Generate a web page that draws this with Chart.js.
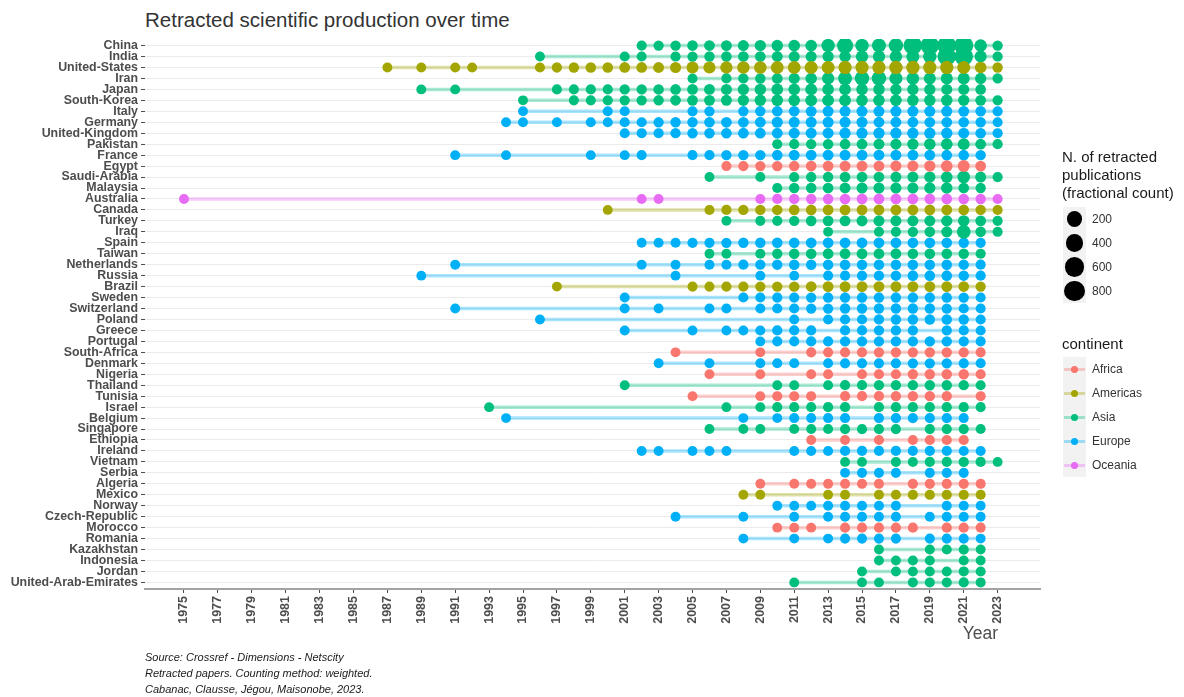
<!DOCTYPE html>
<html>
<head>
<meta charset="utf-8">
<script src="https://cdn.jsdelivr.net/npm/chart.js"></script>
<style>
  body { margin: 0; background: #fff; font-family: 'Liberation Sans', Arial, sans-serif; }
  #wrap { position: relative; width: 1184px; height: 697px; }
  #chart { position: absolute; left: 0; top: 0; }
  #title { position: absolute; left: 145px; top: 8px; font-size: 20.5px; color: #333; white-space: nowrap; }
  #year-label { position: absolute; right: 186px; top: 623px; font-size: 17.5px; color: #4d4d4d; }
  #caption { position: absolute; left: 145px; top: 649px; font-size: 11px; font-style: italic; line-height: 16px; color: #1a1a1a; }
  .leg-title { position: absolute; left: 1062px; font-size: 15px; line-height: 18px; color: #1a1a1a; white-space: nowrap; }
  .leg-box { position: absolute; left: 1063px; width: 23px; background: #f2f2f2; }
  .leg-label { position: absolute; left: 1092px; font-size: 12px; color: #333; line-height: 14px; }
  .leg-dot { position: absolute; border-radius: 50%; }
  .leg-line { position: absolute; height: 3px; }
</style>
</head>
<body>
<div id="wrap">
  <div id="title">Retracted scientific production over time</div>
  <canvas id="chart" width="1184" height="697"></canvas>
  <div id="year-label">Year</div>
  <div id="caption">Source: Crossref - Dimensions - Netscity<br>Retracted papers. Counting method: weighted.<br>Cabanac, Clausse, Jégou, Maisonobe, 2023.</div>
  <div id="legend"></div>
</div>
<script>
const countries = ['China', 'India', 'United-States', 'Iran', 'Japan', 'South-Korea', 'Italy', 'Germany',
  'United-Kingdom', 'Pakistan', 'France', 'Egypt', 'Saudi-Arabia', 'Malaysia', 'Australia', 'Canada',
  'Turkey', 'Iraq', 'Spain', 'Taiwan', 'Netherlands', 'Russia', 'Brazil', 'Sweden', 'Switzerland',
  'Poland', 'Greece', 'Portugal', 'South-Africa', 'Denmark', 'Nigeria', 'Thailand', 'Tunisia', 'Israel',
  'Belgium', 'Singapore', 'Ethiopia', 'Ireland', 'Vietnam', 'Serbia', 'Algeria', 'Mexico', 'Norway',
  'Czech-Republic', 'Morocco', 'Romania', 'Kazakhstan', 'Indonesia', 'Jordan', 'United-Arab-Emirates'];

const countryContinent = ['Asia', 'Asia', 'Americas', 'Asia', 'Asia', 'Asia', 'Europe', 'Europe',
  'Europe', 'Asia', 'Europe', 'Africa', 'Asia', 'Asia', 'Oceania', 'Americas',
  'Asia', 'Asia', 'Europe', 'Asia', 'Europe', 'Europe', 'Americas', 'Europe', 'Europe',
  'Europe', 'Europe', 'Europe', 'Africa', 'Europe', 'Africa', 'Asia', 'Africa', 'Asia',
  'Europe', 'Asia', 'Africa', 'Europe', 'Asia', 'Europe', 'Africa', 'Americas', 'Europe',
  'Europe', 'Africa', 'Europe', 'Asia', 'Asia', 'Asia', 'Asia'];

const continents = ['Africa', 'Americas', 'Asia', 'Europe', 'Oceania'];
const continentColors = ['#F8766D', '#A3A500', '#00BF7D', '#00B0F6', '#E76BF3'];

// years with at least one retracted publication, per country
const pubYears = [
  [2002, 2003, 2004, 2005, 2006, 2007, 2008, 2009, 2010, 2011, 2012, 2013, 2014, 2015, 2016, 2017, 2018, 2019, 2020, 2021, 2022, 2023],
  [1996, 2001, 2002, 2004, 2005, 2006, 2007, 2008, 2009, 2010, 2011, 2012, 2013, 2014, 2015, 2016, 2017, 2018, 2019, 2020, 2021, 2022, 2023],
  [1987, 1989, 1991, 1992, 1996, 1997, 1998, 1999, 2000, 2001, 2002, 2003, 2004, 2005, 2006, 2007, 2008, 2009, 2010, 2011, 2012, 2013, 2014, 2015, 2016, 2017, 2018, 2019, 2020, 2021, 2022, 2023],
  [2005, 2007, 2008, 2009, 2010, 2011, 2012, 2013, 2014, 2015, 2016, 2017, 2018, 2019, 2020, 2021, 2022, 2023],
  [1989, 1991, 1997, 1998, 1999, 2000, 2001, 2002, 2003, 2004, 2005, 2006, 2007, 2008, 2009, 2010, 2011, 2012, 2013, 2014, 2015, 2016, 2017, 2018, 2019, 2020, 2021, 2022],
  [1995, 1998, 1999, 2000, 2001, 2002, 2003, 2004, 2005, 2006, 2007, 2008, 2009, 2010, 2011, 2012, 2013, 2014, 2015, 2016, 2017, 2018, 2019, 2020, 2021, 2022, 2023],
  [1995, 2000, 2001, 2005, 2006, 2008, 2009, 2010, 2011, 2012, 2013, 2014, 2015, 2016, 2017, 2018, 2019, 2020, 2021, 2022, 2023],
  [1994, 1995, 1997, 1999, 2000, 2001, 2002, 2003, 2004, 2005, 2006, 2007, 2008, 2009, 2010, 2011, 2012, 2013, 2014, 2015, 2016, 2017, 2018, 2019, 2020, 2021, 2022, 2023],
  [2001, 2002, 2003, 2004, 2005, 2006, 2007, 2008, 2009, 2010, 2011, 2012, 2013, 2014, 2015, 2016, 2017, 2018, 2019, 2020, 2021, 2022, 2023],
  [2010, 2011, 2012, 2013, 2014, 2015, 2016, 2017, 2018, 2019, 2020, 2021, 2022, 2023],
  [1991, 1994, 1999, 2001, 2002, 2005, 2006, 2007, 2008, 2009, 2010, 2011, 2012, 2013, 2014, 2015, 2016, 2017, 2018, 2019, 2020, 2021, 2022],
  [2007, 2008, 2009, 2010, 2011, 2012, 2013, 2014, 2015, 2016, 2017, 2018, 2019, 2020, 2021, 2022],
  [2006, 2009, 2011, 2012, 2013, 2014, 2015, 2016, 2017, 2018, 2019, 2020, 2021, 2022, 2023],
  [2010, 2011, 2012, 2013, 2014, 2015, 2016, 2017, 2018, 2019, 2020, 2021, 2022],
  [1975, 2002, 2003, 2009, 2010, 2011, 2012, 2013, 2014, 2015, 2016, 2017, 2018, 2019, 2020, 2021, 2022, 2023],
  [2000, 2006, 2007, 2008, 2009, 2010, 2011, 2012, 2013, 2014, 2015, 2016, 2017, 2018, 2019, 2020, 2021, 2022, 2023],
  [2007, 2009, 2010, 2011, 2012, 2013, 2014, 2015, 2016, 2017, 2018, 2019, 2020, 2021, 2022, 2023],
  [2013, 2016, 2017, 2018, 2019, 2020, 2021, 2022, 2023],
  [2002, 2003, 2004, 2005, 2006, 2007, 2008, 2009, 2010, 2011, 2012, 2013, 2014, 2015, 2016, 2017, 2018, 2019, 2020, 2021, 2022],
  [2006, 2007, 2009, 2010, 2011, 2012, 2013, 2014, 2015, 2016, 2017, 2018, 2019, 2020, 2021, 2022],
  [1991, 2002, 2004, 2006, 2007, 2008, 2009, 2010, 2011, 2012, 2013, 2014, 2015, 2016, 2017, 2018, 2019, 2020, 2021, 2022],
  [1989, 2004, 2009, 2011, 2013, 2014, 2015, 2016, 2017, 2018, 2019, 2020, 2021, 2022],
  [1997, 2005, 2006, 2007, 2008, 2009, 2010, 2011, 2012, 2013, 2014, 2015, 2016, 2017, 2018, 2019, 2020, 2021, 2022],
  [2001, 2008, 2009, 2010, 2011, 2012, 2013, 2014, 2015, 2016, 2017, 2018, 2019, 2020, 2021, 2022],
  [1991, 2001, 2003, 2006, 2007, 2009, 2010, 2011, 2012, 2013, 2014, 2015, 2016, 2017, 2018, 2019, 2020, 2021, 2022],
  [1996, 2011, 2013, 2014, 2015, 2016, 2017, 2018, 2019, 2020, 2021, 2022],
  [2001, 2005, 2007, 2008, 2009, 2010, 2011, 2012, 2014, 2015, 2016, 2017, 2018, 2020, 2021, 2022],
  [2009, 2010, 2011, 2012, 2013, 2014, 2015, 2016, 2017, 2018, 2019, 2020, 2021, 2022],
  [2004, 2009, 2012, 2013, 2014, 2015, 2016, 2017, 2018, 2019, 2020, 2021, 2022],
  [2003, 2006, 2009, 2010, 2011, 2013, 2014, 2015, 2016, 2017, 2018, 2019, 2020, 2021, 2022],
  [2006, 2009, 2012, 2013, 2015, 2016, 2017, 2018, 2019, 2020, 2021, 2022],
  [2001, 2010, 2011, 2013, 2014, 2015, 2016, 2017, 2018, 2019, 2020, 2021, 2022],
  [2005, 2009, 2010, 2011, 2012, 2014, 2015, 2016, 2017, 2018, 2019, 2020, 2022],
  [1993, 2007, 2009, 2010, 2011, 2012, 2013, 2014, 2016, 2017, 2018, 2019, 2020, 2021, 2022],
  [1994, 2008, 2010, 2011, 2012, 2013, 2014, 2016, 2017, 2018, 2019, 2020, 2021],
  [2006, 2008, 2009, 2011, 2012, 2013, 2014, 2015, 2016, 2017, 2019, 2020, 2021, 2022],
  [2012, 2014, 2016, 2018, 2019, 2020, 2021],
  [2002, 2003, 2005, 2006, 2007, 2011, 2012, 2013, 2014, 2015, 2016, 2017, 2018, 2019, 2020, 2021, 2022],
  [2014, 2015, 2017, 2018, 2019, 2020, 2021, 2022, 2023],
  [2014, 2015, 2016, 2017, 2019, 2020, 2021],
  [2009, 2011, 2012, 2013, 2014, 2015, 2016, 2018, 2019, 2020, 2021, 2022],
  [2008, 2009, 2013, 2014, 2016, 2017, 2018, 2019, 2020, 2021, 2022],
  [2010, 2011, 2012, 2013, 2014, 2015, 2016, 2017, 2020, 2021, 2022],
  [2004, 2008, 2011, 2013, 2014, 2015, 2016, 2017, 2019, 2020, 2021, 2022],
  [2010, 2011, 2012, 2014, 2015, 2016, 2017, 2018, 2020, 2021, 2022],
  [2008, 2011, 2013, 2014, 2015, 2016, 2017, 2019, 2020, 2021, 2022],
  [2016, 2019, 2020, 2021, 2022],
  [2016, 2017, 2018, 2019, 2021, 2022],
  [2015, 2017, 2018, 2019, 2020, 2021, 2022],
  [2011, 2015, 2016, 2018, 2019, 2020, 2021, 2022]
];

// fractional counts, same order as pubYears
const pubCounts = [
  [3, 4, 5, 8, 10, 12, 15, 20, 25, 30, 30, 100, 280, 100, 130, 160, 520, 520, 580, 580, 60, 5],
  [1, 2, 2, 3, 4, 5, 6, 8, 10, 12, 14, 15, 20, 25, 50, 50, 55, 80, 100, 500, 520, 40, 3],
  [1, 1, 1, 1, 3, 4, 5, 8, 8, 10, 10, 12, 15, 40, 45, 50, 55, 60, 70, 70, 80, 80, 90, 90, 90, 100, 100, 90, 90, 80, 30, 5],
  [2, 3, 4, 6, 10, 15, 25, 50, 120, 150, 150, 80, 60, 40, 40, 40, 20, 4],
  [1, 1, 2, 2, 3, 3, 4, 5, 6, 8, 10, 12, 15, 20, 25, 30, 30, 35, 30, 30, 25, 25, 20, 20, 20, 15, 15, 8],
  [1, 2, 2, 3, 4, 5, 6, 8, 10, 12, 15, 20, 25, 30, 30, 35, 35, 35, 30, 30, 30, 25, 25, 25, 20, 10, 3],
  [1, 2, 2, 3, 4, 5, 6, 8, 10, 12, 15, 15, 15, 15, 15, 15, 15, 15, 12, 8, 3],
  [1, 1, 1, 2, 2, 3, 3, 4, 5, 6, 8, 10, 10, 12, 15, 15, 15, 15, 15, 15, 12, 12, 12, 10, 10, 8, 5, 2],
  [2, 3, 3, 4, 5, 6, 8, 10, 10, 12, 15, 15, 15, 20, 20, 20, 20, 20, 20, 20, 15, 8, 3],
  [2, 3, 5, 6, 8, 10, 12, 15, 20, 25, 30, 35, 10, 3],
  [1, 1, 1, 1, 2, 2, 3, 4, 5, 6, 8, 10, 10, 12, 12, 12, 12, 12, 10, 10, 8, 8, 5],
  [2, 3, 4, 5, 6, 8, 10, 12, 12, 12, 15, 15, 20, 30, 40, 10],
  [1, 2, 3, 5, 6, 8, 10, 10, 12, 15, 20, 30, 60, 15, 3],
  [3, 5, 8, 10, 12, 15, 15, 15, 15, 20, 25, 10, 4],
  [1, 1, 1, 2, 3, 4, 5, 6, 8, 10, 10, 10, 10, 10, 10, 8, 5, 2],
  [1, 2, 3, 4, 5, 6, 8, 8, 10, 10, 10, 10, 10, 10, 10, 10, 8, 5, 2],
  [1, 2, 3, 5, 8, 10, 12, 15, 15, 15, 15, 15, 20, 25, 10, 3],
  [1, 2, 3, 5, 8, 15, 120, 8, 2],
  [1, 2, 2, 3, 3, 4, 5, 6, 8, 8, 10, 10, 10, 10, 10, 10, 10, 10, 8, 6, 3],
  [1, 2, 3, 4, 6, 8, 10, 10, 12, 10, 10, 8, 8, 8, 6, 3],
  [1, 1, 1, 2, 2, 3, 4, 5, 6, 6, 6, 6, 6, 6, 6, 6, 6, 6, 5, 3],
  [1, 1, 1, 1, 2, 3, 4, 5, 6, 8, 8, 8, 6, 3],
  [1, 2, 2, 3, 3, 4, 5, 6, 8, 10, 10, 10, 10, 10, 10, 10, 10, 8, 4],
  [1, 2, 2, 3, 3, 4, 5, 5, 5, 5, 5, 5, 5, 5, 4, 2],
  [1, 1, 1, 1, 2, 2, 3, 3, 4, 4, 5, 5, 5, 5, 5, 5, 4, 3, 2],
  [1, 1, 2, 3, 3, 4, 5, 5, 6, 6, 5, 3],
  [1, 1, 1, 2, 2, 3, 3, 3, 3, 3, 4, 4, 4, 4, 3, 2],
  [1, 2, 2, 3, 3, 4, 4, 4, 5, 5, 5, 5, 4, 2],
  [1, 1, 2, 2, 3, 3, 4, 4, 4, 5, 5, 4, 2],
  [1, 1, 1, 2, 2, 2, 3, 3, 3, 3, 4, 4, 4, 3, 2],
  [1, 1, 1, 2, 2, 3, 3, 4, 5, 6, 5, 3],
  [1, 1, 2, 2, 3, 3, 4, 4, 4, 5, 5, 4, 2],
  [1, 1, 2, 2, 2, 3, 3, 3, 4, 4, 4, 4, 2],
  [1, 1, 1, 2, 2, 2, 3, 3, 3, 3, 3, 3, 3, 3, 2],
  [1, 1, 1, 2, 2, 2, 2, 3, 3, 3, 3, 3, 2],
  [1, 1, 1, 2, 2, 2, 3, 3, 3, 3, 3, 3, 3, 2],
  [1, 1, 2, 2, 3, 3, 3],
  [1, 1, 1, 1, 1, 2, 2, 2, 3, 3, 3, 3, 3, 3, 3, 2, 2],
  [1, 1, 2, 2, 3, 3, 4, 3, 1],
  [1, 2, 2, 2, 2, 2, 2],
  [1, 1, 2, 2, 2, 2, 2, 3, 3, 3, 3, 2],
  [1, 1, 1, 2, 2, 2, 3, 3, 3, 3, 2],
  [1, 1, 1, 2, 2, 2, 2, 2, 2, 2, 1],
  [1, 1, 1, 1, 2, 2, 2, 2, 2, 2, 2, 1],
  [1, 1, 1, 2, 2, 2, 2, 2, 3, 3, 2],
  [1, 1, 1, 2, 2, 2, 2, 2, 2, 2, 1],
  [1, 2, 2, 3, 1],
  [1, 1, 2, 2, 2, 1],
  [1, 1, 2, 2, 2, 3, 2],
  [1, 1, 1, 2, 2, 2, 3, 2]
];

const xTickYears = [1975, 1977, 1979, 1981, 1983, 1985, 1987, 1989, 1991, 1993, 1995, 1997, 1999,
  2001, 2003, 2005, 2007, 2009, 2011, 2013, 2015, 2017, 2019, 2021, 2023];
const sizeBreaks = [200, 400, 600, 800];

// point radius in px, area-like scaling of the count
function dotRadius(count) {
  return (9.5 + 12.5 * Math.sqrt(count / 1000)) / 2;
}

function alpha(hex, a) {
  const n = parseInt(hex.slice(1), 16);
  return `rgba(${n >> 16}, ${(n >> 8) & 255}, ${n & 255}, ${a})`;
}

// Segment from first to last year for every country
const lineSets = countries.map((c, i) => {
  const col = continentColors[continents.indexOf(countryContinent[i])];
  const ys = pubYears[i];
  return {
    type: 'line',
    data: [{ x: ys[0], y: i }, { x: ys[ys.length - 1], y: i }],
    borderColor: alpha(col, 0.35),
    borderWidth: 3.5,
    pointRadius: 0,
    order: 1
  };
});

// Dots, one dataset per continent
const dotSets = continents.map((cont, k) => {
  const pts = [];
  countries.forEach((c, i) => {
    if (countryContinent[i] !== cont) return;
    pubYears[i].forEach((yr, j) => {
      pts.push({ x: yr, y: i, r: dotRadius(pubCounts[i][j]) });
    });
  });
  return {
    type: 'bubble',
    label: cont,
    data: pts,
    backgroundColor: continentColors[k],
    borderWidth: 0,
    order: 0
  };
});

const yFont = { family: "'Liberation Sans', Arial, sans-serif", size: 12.4, weight: 'bold' };
const xFont = { family: "'Liberation Sans', Arial, sans-serif", size: 12.5, weight: 'bold' };

new Chart(document.getElementById('chart').getContext('2d'), {
  type: 'scatter',
  data: { datasets: [...dotSets, ...lineSets] },
  options: {
    responsive: false,
    animation: false,
    events: [],
    layout: { padding: { top: 39, right: 144, bottom: 0, left: 0 } },
    plugins: { legend: { display: false }, tooltip: { enabled: false } },
    scales: {
      x: {
        type: 'linear',
        min: 1972.7,
        max: 2025.5,
        afterBuildTicks: axis => { axis.ticks = xTickYears.map(v => ({ value: v })); },
        afterFit: axis => { axis.height = 108; },
        ticks: {
          autoSkip: false, minRotation: 90, maxRotation: 90, padding: 3,
          color: '#4d4d4d', font: xFont,
          callback: v => String(v)
        },
        grid: { drawOnChartArea: false, drawTicks: true, tickLength: 4, tickColor: '#4d4d4d' },
        border: { display: true, color: '#a3a3a3', width: 2 }
      },
      y: {
        type: 'linear',
        reverse: true,
        min: -0.6,
        max: 49.6,
        afterBuildTicks: axis => { axis.ticks = countries.map((c, i) => ({ value: i })); },
        afterFit: axis => { axis.width = 145; },
        ticks: {
          autoSkip: false, padding: 3,
          color: '#4d4d4d', font: yFont,
          callback: v => countries[v]
        },
        grid: { color: '#ebebeb', lineWidth: 1, tickLength: 4, tickColor: '#4d4d4d' },
        border: { display: false }
      }
    }
  }
});

// Legends (size + continent)
const legend = document.getElementById('legend');
let html = '<div class="leg-title" style="top:148px">N. of retracted<br>publications<br>(fractional count)</div>';
html += `<div class="leg-box" style="top:207px;height:${sizeBreaks.length * 24}px"></div>`;
sizeBreaks.forEach((b, i) => {
  const cy = 219 + i * 24;
  const r = dotRadius(b);
  html += `<div class="leg-dot" style="left:${1074.5 - r}px;top:${cy - r}px;width:${2 * r}px;height:${2 * r}px;background:#000"></div>`;
  html += `<div class="leg-label" style="top:${cy - 7}px">${b}</div>`;
});
html += '<div class="leg-title" style="top:335px">continent</div>';
html += `<div class="leg-box" style="top:357px;height:${continents.length * 24}px"></div>`;
continents.forEach((c, i) => {
  const cy = 369 + i * 24;
  html += `<div class="leg-line" style="left:1064px;width:21px;top:${cy - 1.5}px;background:${alpha(continentColors[i], 0.35)}"></div>`;
  html += `<div class="leg-dot" style="left:${1074.5 - 3.5}px;top:${cy - 3.5}px;width:7px;height:7px;background:${continentColors[i]}"></div>`;
  html += `<div class="leg-label" style="top:${cy - 7}px">${c}</div>`;
});
legend.innerHTML = html;
</script>
</body>
</html>
